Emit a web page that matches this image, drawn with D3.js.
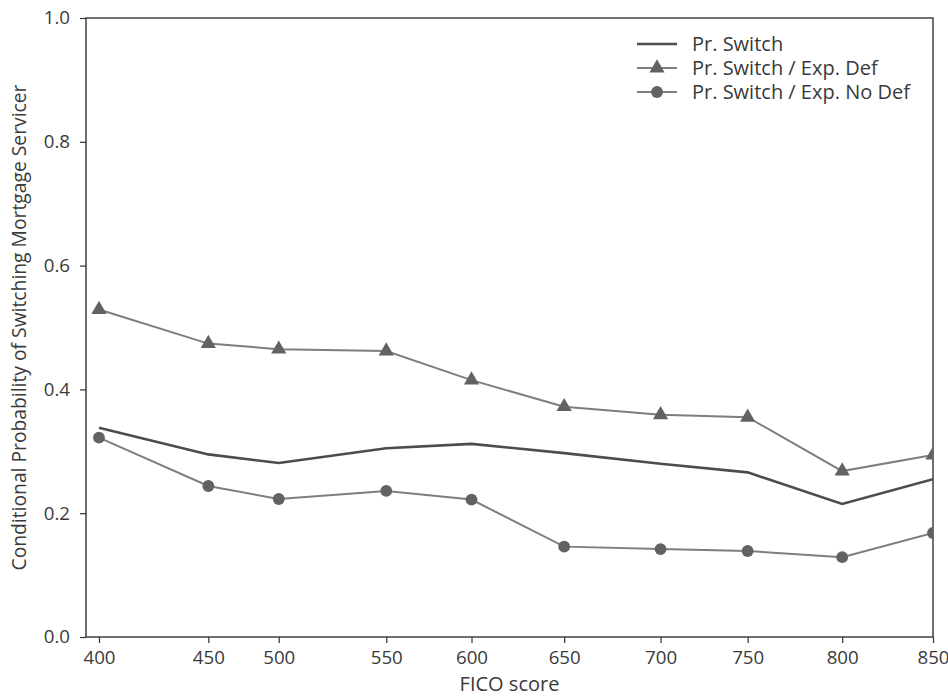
<!DOCTYPE html>
<html>
<head>
<meta charset="utf-8">
<script src="https://cdn.jsdelivr.net/npm/d3@7"></script>
<style>
  body { margin: 0; background: #fff; }
  svg text { font-family: "Open Sans", sans-serif; fill: #3a3a3a; }
</style>
</head>
<body>
<svg id="chart" width="948" height="696"></svg>
<script>
var fico = [400, 459, 497, 555, 601, 651, 703, 750, 801, 850];
var ficoLabels = ['400', '450', '500', '550', '600', '650', '700', '750', '800', '850'];

var prSwitch = [0.338, 0.295, 0.281, 0.305, 0.312, 0.297, 0.280, 0.266, 0.215, 0.255];
var prSwitchDef = [0.529, 0.474, 0.465, 0.462, 0.415, 0.372, 0.359, 0.355, 0.268, 0.294];
var prSwitchNoDef = [0.322, 0.244, 0.223, 0.236, 0.222, 0.146, 0.142, 0.139, 0.129, 0.168];

var yTicks = [0, 0.2, 0.4, 0.6, 0.8, 1.0];

var series = [
  { name: 'Pr. Switch', values: prSwitch, marker: null, color: '#4c4c4c', width: 2.6 },
  { name: 'Pr. Switch / Exp. Def', values: prSwitchDef, marker: 'triangle', color: '#7e7e7e', width: 2 },
  { name: 'Pr. Switch / Exp. No Def', values: prSwitchNoDef, marker: 'circle', color: '#7e7e7e', width: 2 }
];

var margin = { left: 86, top: 18, right: 15, bottom: 59 };
var width = 948 - margin.left - margin.right;
var height = 696 - margin.top - margin.bottom;

var svg = d3.select('#chart');
var g = svg.append('g')
  .attr('transform', 'translate(' + margin.left + ',' + margin.top + ')');

var x = d3.scaleLinear().domain([393, 850]).range([0, width]);
var y = d3.scaleLinear().domain([0, 1]).range([height, 0]);

g.append('defs').append('clipPath').attr('id', 'plotClip')
  .append('rect').attr('width', width).attr('height', height);

// axes
var xAxis = d3.axisBottom(x).tickValues(fico)
  .tickFormat(function(d, i) { return ficoLabels[i]; })
  .tickSize(6).tickPadding(8);
var yAxis = d3.axisLeft(y).tickValues(yTicks)
  .tickFormat(d3.format('.1f')).tickSize(6).tickPadding(10);

var xg = g.append('g').attr('transform', 'translate(0,' + height + ')').call(xAxis);
var yg = g.append('g').call(yAxis);
[xg, yg].forEach(function(a) {
  a.select('.domain').remove();
  a.selectAll('line').attr('stroke', '#333').attr('stroke-width', 1.2);
  a.selectAll('text').style('font-size', '18.7px').attr('fill', '#3a3a3a');
});

// frame
g.append('rect').attr('width', width).attr('height', height)
  .attr('fill', 'none').attr('stroke', '#333').attr('stroke-width', 1.4);

var plot = g.append('g').attr('clip-path', 'url(#plotClip)');

var line = d3.line()
  .x(function(d, i) { return x(fico[i]); })
  .y(function(d) { return y(d); });

var tri = d3.symbol().type(d3.symbolTriangle).size(100);
var circ = d3.symbol().type(d3.symbolCircle).size(110);

series.forEach(function(s) {
  plot.append('path').datum(s.values)
    .attr('d', line)
    .attr('fill', 'none')
    .attr('stroke', s.color)
    .attr('stroke-width', s.width);

  if (s.marker) {
    plot.selectAll('.m-' + s.marker).data(s.values).enter()
      .append('path')
      .attr('class', 'm-' + s.marker)
      .attr('transform', function(d, i) { return 'translate(' + x(fico[i]) + ',' + y(d) + ')'; })
      .attr('d', s.marker === 'triangle' ? tri : circ)
      .attr('fill', '#626262');
  }
});

// legend
var legend = g.append('g').attr('transform', 'translate(' + (637 - margin.left) + ',' + (44 - margin.top) + ')');
series.forEach(function(s, i) {
  var row = legend.append('g').attr('transform', 'translate(0,' + i * 24 + ')');
  row.append('line').attr('x1', 0).attr('x2', 40).attr('y1', 0).attr('y2', 0)
    .attr('stroke', s.color).attr('stroke-width', s.width);
  if (s.marker) {
    row.append('path').attr('transform', 'translate(20,0)')
      .attr('d', s.marker === 'triangle' ? tri : circ)
      .attr('fill', '#626262');
  }
  row.append('text').attr('x', 55).attr('y', 0).attr('dy', '0.35em')
    .style('font-size', '20px').text(s.name);
});

// axis titles
g.append('text')
  .attr('x', width / 2).attr('y', height + 54)
  .attr('text-anchor', 'middle').style('font-size', '20px')
  .text('FICO score');

g.append('text')
  .attr('transform', 'translate(' + (19 - margin.left) + ',' + height / 2 + ') rotate(-90)')
  .attr('text-anchor', 'middle').attr('dy', '0.35em').style('font-size', '19.3px')
  .text('Conditional Probability of Switching Mortgage Servicer');
</script>
</body>
</html>
